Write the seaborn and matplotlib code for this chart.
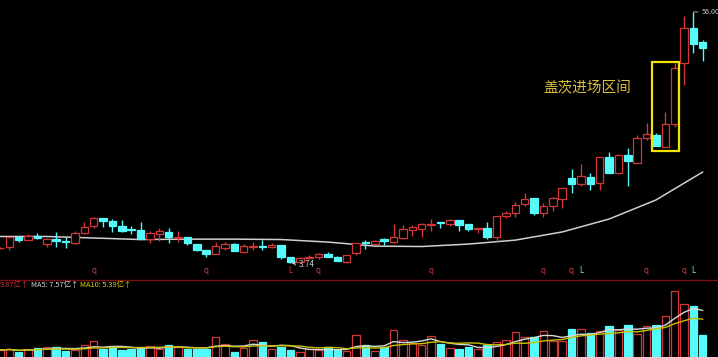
"""
K线 + 成交量 (盖茨进场区间)
"""
import numpy as np
import pandas as pd
import matplotlib
matplotlib.use("Agg")
import matplotlib.pyplot as plt
import matplotlib.transforms as mtransforms
import seaborn as sns

# ── 数据 ──
opens = [4.38, 4.44, 4.95, 4.79, 5.01, 4.59, 4.84, 4.74, 4.64, 5.17,
         5.57, 6.08, 5.88, 5.57, 5.40, 5.34, 4.84, 5.12, 5.23, 4.90,
         4.95, 4.59, 4.30, 4.12, 4.40, 4.59, 4.21, 4.47, 4.49, 4.44,
         4.54, 3.99, 3.78, 3.97, 3.99, 4.12, 3.99, 3.80, 4.17, 4.69,
         4.59, 4.84, 4.69, 4.90, 5.34, 5.40, 5.65, 5.82, 5.70, 5.95,
         5.70, 5.40, 5.45, 4.95, 6.21, 6.41, 7.07, 7.54, 6.41, 6.92,
         7.46, 9.35, 8.77, 9.45, 8.86, 11.72, 9.87, 11.98, 10.99, 14.39,
         14.86, 13.06, 16.73, 32.30, 47.10, 40.50]
highs = [4.44, 4.95, 5.01, 5.12, 5.17, 4.90, 5.23, 4.95, 5.28, 5.82,
         6.14, 6.08, 6.01, 5.95, 5.57, 5.82, 5.28, 5.45, 5.45, 5.28,
         4.95, 4.59, 4.30, 4.69, 4.69, 4.64, 4.59, 4.69, 4.79, 4.64,
         4.54, 3.99, 3.99, 4.08, 4.15, 4.21, 4.03, 4.08, 4.66, 4.79,
         4.79, 4.90, 5.70, 5.63, 5.63, 5.76, 6.01, 5.84, 6.01, 5.95,
         5.70, 5.47, 5.82, 6.21, 6.55, 7.22, 7.95, 7.54, 7.14, 7.62,
         8.40, 10.30, 10.87, 9.87, 11.72, 12.37, 12.10, 12.92, 14.86, 16.92,
         15.19, 19.05, 32.30, 53.60, 56.00, 41.40]
lows = [4.35, 4.30, 4.69, 4.79, 4.84, 4.44, 4.44, 4.40, 4.59, 5.12,
        5.45, 5.51, 5.23, 5.23, 5.12, 4.84, 4.64, 4.74, 4.64, 4.69,
        4.54, 4.26, 3.99, 4.12, 4.30, 4.26, 4.17, 4.30, 4.30, 4.40,
        3.90, 3.74, 3.76, 3.90, 3.90, 3.99, 3.82, 3.76, 4.08, 4.35,
        4.59, 4.54, 4.64, 4.84, 5.01, 4.95, 5.28, 5.45, 5.57, 5.28,
        5.28, 5.17, 4.84, 4.74, 6.08, 6.14, 6.92, 6.28, 6.14, 6.55,
        6.77, 7.95, 8.59, 8.22, 8.22, 9.87, 9.87, 8.59, 10.99, 14.08,
        13.20, 13.06, 16.20, 25.48, 35.97, 33.00]
closes = [4.42, 4.95, 4.81, 5.01, 4.90, 4.84, 4.74, 4.69, 5.17, 5.51,
          6.08, 5.88, 5.57, 5.28, 5.34, 4.84, 5.17, 5.28, 4.95, 4.95,
          4.64, 4.30, 4.12, 4.49, 4.59, 4.26, 4.49, 4.51, 4.44, 4.54,
          3.99, 3.78, 3.95, 4.01, 4.12, 3.99, 3.82, 4.08, 4.64, 4.64,
          4.74, 4.74, 4.95, 5.40, 5.51, 5.70, 5.70, 5.76, 5.95, 5.63,
          5.40, 5.45, 4.95, 6.21, 6.41, 6.99, 7.46, 6.41, 6.92, 7.54,
          8.40, 8.77, 9.56, 8.77, 11.72, 9.87, 11.98, 11.23, 14.39, 15.02,
          13.20, 16.73, 30.61, 47.10, 39.64, 37.97]
# 成交量 (亿)
volumes = [4.0, 4.1, 3.8, 4.1, 4.2, 4.3, 4.3, 3.9, 4.0, 4.5,
           4.9, 4.1, 4.3, 4.0, 4.1, 4.3, 4.4, 4.1, 4.5, 4.3,
           4.1, 4.1, 4.1, 5.3, 4.6, 3.8, 4.2, 5.0, 4.8, 4.1,
           4.3, 4.0, 3.8, 4.1, 4.0, 4.3, 4.0, 3.9, 5.5, 4.5,
           3.9, 4.3, 6.0, 5.0, 4.7, 4.5, 5.4, 4.6, 4.2, 4.1,
           4.3, 4.1, 4.5, 4.8, 5.0, 5.8, 5.3, 5.3, 5.9, 4.9,
           4.9, 6.1, 6.1, 5.7, 5.9, 6.4, 6.0, 6.5, 5.6, 6.4,
           6.5, 7.4, 9.9, 8.6, 8.4, 5.5]
# 价格长期均线 (每5根读一次)
ma_idx = [0, 5, 10, 15, 20, 25, 30, 35, 40, 45, 50, 55, 60, 65, 70, 75]
ma_price = [4.98, 4.98, 4.90, 4.82, 4.84, 4.84, 4.82, 4.69, 4.49, 4.47,
            4.59, 4.79, 5.23, 6.01, 7.38, 9.98]
# 底部信号标记
sig_idx = [10, 22, 31, 34, 46, 58, 61, 62, 69, 73, 74]
sig_txt = ['q', 'q', 'L', 'q', 'q', 'q', 'q', 'L', 'q', 'q', 'L']
box_range = (70, 72)  # 盖茨进场区间
vol_legend = ["9.87亿↑", "MA5: 7.57亿↑", "MA10: 5.39亿↑"]

RED = "#d23636"
CYAN = "#55fafa"

sns.set_theme(style="dark", rc={"axes.facecolor": "black", "figure.facecolor": "black"})
plt.rcParams['font.family'] = ['Noto Sans CJK SC', 'DejaVu Sans']

df = pd.DataFrame({"open": opens, "high": highs, "low": lows, "close": closes, "vol": volumes})
df["x"] = np.arange(len(df))
df["up"] = df["close"] >= df["open"]
df["top"] = df[["open", "close"]].max(axis=1)
df["bot"] = df[["open", "close"]].min(axis=1)
df["vma5"] = df["vol"].rolling(5, min_periods=1).mean()
df["vma10"] = df["vol"].rolling(10, min_periods=1).mean()

W, H = 718, 357
fig = plt.figure(figsize=(W / 100, H / 100), dpi=100)
ax = fig.add_axes([0, 1 - 279 / H, 1, 279 / H])
axv = fig.add_axes([0, 0, 1, 77 / H])
xlim = (0, W / 9.37)

# ── 价格 ──
ax.set_yscale("log")
sns.lineplot(x=ma_idx, y=ma_price, ax=ax, color="#cfcfcf", lw=1.1, zorder=1)

face = np.where(df["up"], "black", CYAN)
edge = np.where(df["up"], RED, CYAN)
ax.vlines(df["x"], df["low"], df["bot"], colors=edge, lw=1, zorder=2)
ax.vlines(df["x"], df["top"], df["high"], colors=edge, lw=1, zorder=2)
ax.bar(df["x"], df["top"] - df["bot"], bottom=df["bot"], width=0.8,
       color=face, edgecolor=edge, lw=0.9, zorder=3)

ax.set_xlim(*xlim)
ax.set_ylim(3.15, 63.7)

# 进场区间框
sub = df.iloc[box_range[0]:box_range[1] + 1]
rect = plt.Rectangle((box_range[0] - 0.43, sub["low"].min() * 0.96),
                     box_range[1] - box_range[0] + 0.9,
                     sub["high"].max() * 1.01 - sub["low"].min() * 0.96,
                     fill=False, edgecolor="#f2e400", lw=1.6, zorder=4)
ax.add_patch(rect)
ax.text(58.0, 24.6, "盖茨进场区间", color="#d9bf3c", fontsize=10.5, va="center", ha="left")

# 最高/最低价标注
imax = int(df["high"].idxmax())
ax.annotate(f"{df['high'].max():.2f}", xy=(imax, df["high"].max()),
            xytext=(imax + 0.85, df["high"].max()), color="#c8c8c8", fontsize=5.2,
            va="center", arrowprops=dict(arrowstyle="-", color="#c8c8c8", lw=0.6,
                                         shrinkA=0, shrinkB=0))
imin = int(df["low"].idxmin())
ax.annotate(f"{df['low'].min():.2f}", xy=(imin, df["low"].min()),
            xytext=(imin + 0.85, df["low"].min() * 0.985), color="#c8c8c8", fontsize=5.8,
            va="center", arrowprops=dict(arrowstyle="->", color="#c8c8c8", lw=0.6,
                                         shrinkA=0, shrinkB=1))

trans = mtransforms.blended_transform_factory(ax.transData, ax.transAxes)
for i, t in zip(sig_idx, sig_txt):
    col = CYAN if (t == "L" and i > 40) else RED
    ax.text(i, 0.03, t, transform=trans, color=col, fontsize=5.8, ha="center", va="center")

# ── 成交量 ──
axv.bar(df["x"], df["vol"], width=0.8, color=face, edgecolor=edge, lw=0.9, zorder=2)
sns.lineplot(x=df["x"], y=df["vma5"], ax=axv, color="#d8d8d8", lw=1.0, zorder=3)
sns.lineplot(x=df["x"], y=df["vma10"], ax=axv, color="#c8c000", lw=1.0, zorder=3)
axv.set_xlim(*xlim)
axv.set_ylim(3.3, 11.0)

for a in (ax, axv):
    a.set_xticks([])
    a.set_yticks([])
    a.set_xlabel("")
    a.set_ylabel("")
    a.grid(False)
    for sp in a.spines.values():
        sp.set_visible(False)
axv.spines["top"].set_visible(True)
axv.spines["top"].set_color("#7a1010")
axv.spines["top"].set_linewidth(1.0)

# 成交量图例: 依次排开, 避免重叠
cols = [RED, "#d8d8d8", "#d8d000"]
renderer = fig.canvas.get_renderer()
x_px = 0.0
for s, c in zip(vol_legend, cols):
    t = fig.text(x_px / W, 1 - 284.5 / H, s, color=c, fontsize=5.3, va="center", ha="left")
    bb = t.get_window_extent(renderer=renderer)
    x_px += bb.width + 2

fig.savefig("out.png", dpi=100, facecolor="black")
plt.close()
